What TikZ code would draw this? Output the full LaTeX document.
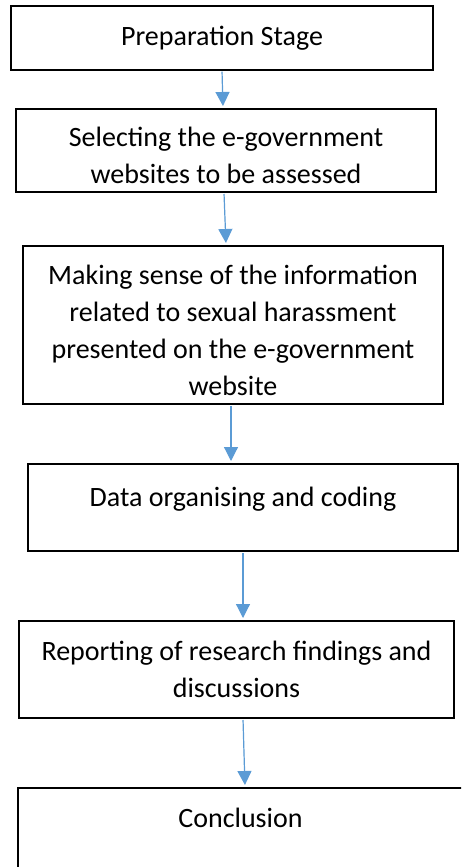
\documentclass[tikz,border=0pt]{standalone}
\usepackage{fontspec}
\setmainfont{Carlito}
\usetikzlibrary{arrows.meta}
\definecolor{flowblue}{HTML}{5B9BD5}
\newcommand{\topstrut}{\rule{0pt}{30pt}}

\begin{document}
\begin{tikzpicture}[x=1pt, y=-1pt,
    stage/.style={draw, line width=2pt, align=center, inner sep=0pt,
      font=\fontsize{28}{37}\selectfont},
    flow/.style={draw=flowblue, fill=flowblue, line width=1.2pt,
      -{Triangle[width=14pt, length=14pt]}, shorten <=1pt, shorten >=2pt}]
  \useasboundingbox (0,0) rectangle (461,867);
  \clip (0,0) rectangle (461,867);

  % the six stages, top to bottom
  \node[stage, minimum width=422pt, minimum height=63.5pt] (prep) at (222,37.8)
    {Preparation Stage};
  \node[stage, minimum width=420pt, minimum height=83pt] (select) at (226,150.5)
    {\topstrut Selecting the e-government\\ websites to be assessed};
  \node[stage, minimum width=420pt, minimum height=158pt] (making) at (233,325)
    {\topstrut Making sense of the information\\ related to sexual harassment\\
     presented on the e-government\\ website};
  \node[stage, minimum width=430pt, minimum height=87pt, text depth=21pt] (data) at (243,507.5)
    {Data organising and coding};
  \node[stage, minimum width=435pt, minimum height=97pt] (report) at (236.5,669.5)
    {Reporting of research findings and\\ discussions};
  \node[stage, minimum width=445pt, minimum height=120pt, text depth=61pt] (concl) at (240.5,848)
    {Conclusion};

  % arrows between the stages
  \foreach \a/\b/\xa/\xb in {prep/select/0/-3, select/making/-2/-7,
      making/data/-2/-12, data/report/0/6.5, report/concl/6.5/4.5} {
    \draw[flow] ([xshift=\xa pt]\a.south) -- ([xshift=\xb pt]\b.north);
  }
\end{tikzpicture}
\end{document}
